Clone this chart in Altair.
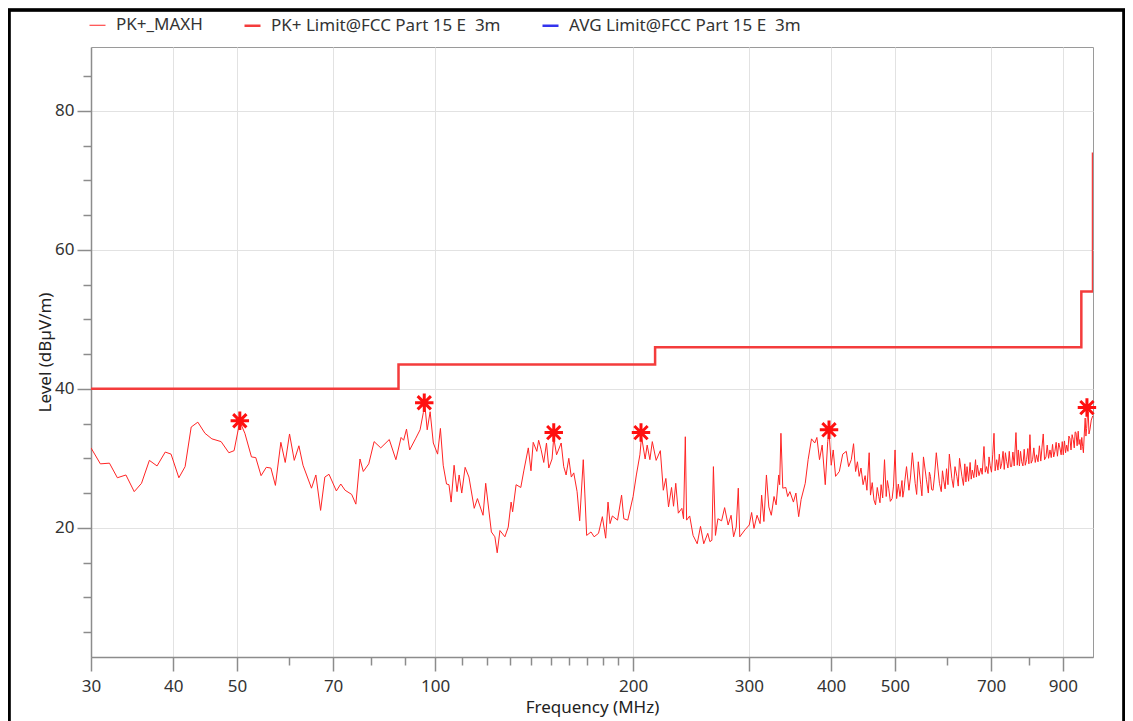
import altair as alt
import pandas as pd

# ---- data ----
trace_freq = [30.0, 31.0, 32.0, 32.9, 33.9, 34.9, 35.8, 36.8, 37.8, 38.9, 39.7, 40.8, 41.7, 42.6, 43.6, 44.7,
              45.8, 47.3, 48.6, 49.5, 50.5, 51.4, 52.6, 53.4, 54.4, 55.4, 56.3, 57.2, 58.3, 59.2, 60.1, 61.1,
              62.1, 63.0, 64.9, 65.9, 67.0, 68.0, 69.0, 70.8, 71.9, 73.0, 74.7, 75.8, 76.9, 77.8, 79.3, 80.8,
              82.7, 85.2, 87.2, 88.8, 89.6, 90.5, 91.5, 93.5, 94.9, 96.0, 96.5, 97.3, 98.3, 99.4, 100.9, 101.9,
              102.9, 104.1, 105.0, 105.8, 106.9, 108.0, 108.8, 109.8, 111.1, 112.6, 114.7, 116.0, 118.3, 119.4,
              121.8, 123.3, 124.3, 125.5, 127.7, 129.2, 130.5, 131.2, 132.8, 135.0, 136.5, 138.6, 139.9, 141.0,
              142.8, 143.7, 144.9, 146.3, 147.7, 148.9, 150.6, 151.5, 153.0, 155.5, 156.9, 158.2, 159.7, 161.1,
              162.5, 164.4, 165.9, 168.0, 168.9, 170.0, 172.6, 174.5, 177.2, 179.6, 181.7, 183.2, 184.5, 186.0,
              189.4, 192.1, 193.6, 196.3, 200.0, 202.3, 204.8, 206.0, 208.6, 210.1, 212.1, 213.9, 216.8, 220.0,
              222.3, 224.3, 226.4, 228.8, 230.4, 232.2, 234.3, 237.2, 238.6, 240.1, 241.2, 243.8, 246.7, 250.3,
              253.2, 256.1, 259.7, 261.7, 263.5, 264.9, 266.8, 269.1, 272.6, 275.5, 278.9, 281.8, 284.3, 286.9,
              289.0, 290.5, 295.8, 300.3, 302.8, 305.3, 308.6, 311.9, 313.6, 316.1, 318.9, 321.6, 324.4, 327.5,
              329.9, 332.9, 334.0, 335.5, 337.7, 341.3, 343.5, 346.2, 350.5, 353.6, 357.0, 360.1, 365.3, 369.0,
              373.4, 377.7, 380.5, 384.0, 387.6, 391.8, 395.2, 397.0, 400.1, 402.9, 406.2, 411.6, 416.5, 421.7,
              425.2, 429.2, 432.6, 435.7, 441.2, 447.3, 453.3, 456.9, 459.0, 464.6, 467.2, 472.5, 476.4, 482.1,
              485.0, 489.2, 495.1, 500.2, 503.0, 508.9, 516.0, 520.7, 525.1, 531.4, 536.7, 542.6, 547.2, 552.5,
              558.3, 566.2, 571.3, 577.9, 584.3, 592.9, 604.9, 610.2, 621.0, 626.8, 632.1, 643.5, 655.5, 667.2,
              675.6, 682.8, 689.0, 697.6, 707.2, 713.8, 726.6, 739.3, 752.1, 763.7, 767.2, 779.1, 792.6, 801.9,
              809.4, 820.8, 840.2, 848.3, 860.2, 875.2, 890.6, 901.2, 912.0, 922.3, 933.2, 942.2, 955.3, 964.4,
              973.0, 978.0, 983.4, 989.2, 999.0]
trace_level = [31.5, 29.2, 29.3, 27.2, 27.6, 25.2, 26.4, 29.7, 28.9, 30.9, 30.6, 27.2, 28.8, 34.5, 35.2, 33.6,
               32.8, 32.4, 30.8, 31.1, 35.3, 33.6, 30.2, 30.1, 27.5, 28.7, 28.6, 26.1, 32.3, 29.4, 33.5, 29.7,
               31.8, 29.0, 25.7, 27.6, 22.5, 27.3, 27.7, 25.3, 26.3, 25.4, 24.8, 23.4, 29.9, 28.1, 29.2, 32.4,
               31.5, 32.7, 29.8, 33.0, 32.6, 34.2, 31.2, 32.9, 34.1, 36.6, 37.7, 34.1, 36.7, 32.2, 30.6, 34.3,
               29.0, 26.3, 26.2, 23.7, 29.0, 25.2, 27.6, 25.0, 28.7, 27.3, 22.8, 24.2, 21.8, 26.4,
               19.4, 18.7, 16.4, 19.6, 18.7, 20.1, 23.7, 22.3, 26.2, 25.8, 28.3, 31.5, 28.2, 32.3,
               31.0, 32.6, 31.3, 29.4, 32.2, 28.6, 29.9, 33.0, 30.5, 32.2, 28.8, 27.6, 30.0, 27.3,
               27.9, 25.2, 21.0, 29.8, 25.0, 18.9, 19.4, 18.7, 19.2, 21.6, 18.5, 23.7, 20.6, 21.7,
               21.1, 24.7, 21.3, 21.1, 24.5, 27.6, 30.5, 33.1, 29.9, 31.9, 29.8, 32.4, 29.7, 31.1,
               25.4, 27.1, 23.0, 25.8, 23.1, 26.4, 22.1, 22.8, 21.3, 33.1, 21.1, 21.7, 18.9, 17.7,
               20.2, 17.7, 19.2, 18.0, 18.2, 28.8, 18.9, 21.3, 21.0, 22.9, 20.4, 21.8, 18.7, 20.1,
               25.7, 18.7, 19.7, 20.4, 22.2, 19.9, 21.8, 20.6, 24.7, 20.9, 27.6, 23.0, 21.8, 24.5,
               23.3, 27.6, 26.2, 33.6, 25.7, 25.8, 24.5, 25.2, 23.7, 25.0, 21.6, 24.1, 26.4, 29.8,
               32.8, 32.2, 33.0, 29.8, 31.9, 26.2, 32.4, 33.9, 29.0, 31.2, 27.4, 28.1, 30.6, 31.0,
               28.8, 29.8, 32.1, 28.1, 27.4, 26.2, 25.4, 30.8, 24.7, 24.0, 23.3, 24.5, 26.2, 29.8,
               24.5, 25.7, 24.2, 31.2, 24.2, 24.5, 25.4, 28.8, 25.4, 30.8, 26.4, 29.5, 26.2, 30.2,
               26.9, 27.4, 25.4, 30.8, 26.4, 26.9, 30.6, 27.1, 27.4, 30.0, 27.4, 28.8, 28.3, 29.0,
               28.6, 31.7, 28.8, 29.0, 33.6, 29.8, 29.3, 29.5, 28.8, 33.7, 29.0, 29.5, 29.8, 33.4,
               29.8, 30.5, 33.5, 30.2, 31.2, 31.0, 31.5, 30.5, 31.9, 32.9, 32.7, 33.7, 32.7, 31.7,
               35.8, 34.3, 36.7, 34.1, 36.1]

trace_freq_fine = [438.5, 444.0, 450.5, 461.8, 470.0, 474.5, 479.0, 487.0, 492.0, 497.5, 506.0, 512.5, 514.0,
                   518.0, 528.0, 539.5, 549.5, 562.0, 564.0, 568.5, 574.5, 588.0, 590.5, 596.0, 599.0, 602.0,
                   613.5, 617.0, 624.0, 635.5, 638.5, 641.0, 647.0, 650.5, 653.0, 659.0, 663.0, 665.0, 671.0,
                   678.5, 686.0, 692.5, 695.0, 701.0, 704.0, 710.0, 717.0, 720.5, 723.5, 730.0, 733.0, 736.0,
                   742.5, 746.0, 749.0, 755.5, 759.0, 770.0, 773.0, 776.0, 782.5, 786.0, 789.0, 796.0, 799.0,
                   805.5, 813.0, 817.0, 825.0, 829.0, 833.0, 836.5, 844.0, 852.0, 856.0, 864.0, 868.0, 871.5,
                   879.0, 883.0, 887.0, 894.5, 898.0, 905.0, 908.5, 916.0, 919.0, 926.0, 929.5, 936.5, 939.5,
                   946.0, 949.5, 952.5, 958.5, 961.5, 967.0, 970.0, 975.5, 980.5, 986.0, 994.0]
trace_level_fine = [29.5, 28.6, 27.5, 26.5, 25.8, 23.6, 24.3, 26.8, 23.8, 26.0, 26.3, 26.8, 24.4,
                    27.0, 27.3, 24.8, 24.6, 25.0, 28.0, 25.5, 27.6, 25.2, 28.2, 25.6, 28.5, 26.2,
                    25.8, 28.8, 26.0, 26.1, 29.2, 26.6, 26.7, 29.4, 27.0, 27.2, 29.8, 27.3, 27.5,
                    27.7, 28.0, 27.8, 30.2, 28.0, 30.5, 28.2, 28.3, 30.6, 28.5, 31.0, 28.4, 30.8,
                    28.6, 31.0, 28.8, 30.9, 28.9, 31.2, 28.9, 31.0, 28.9, 31.3, 29.0, 31.4, 29.2,
                    29.3, 31.5, 29.4, 29.5, 31.8, 29.6, 31.6, 29.8, 31.9, 30.0, 30.1, 32.0, 30.2,
                    32.3, 30.3, 32.2, 30.5, 32.4, 32.5, 30.8, 31.0, 33.2, 31.2, 33.4, 31.5, 33.8,
                    31.8, 33.9, 32.0, 31.2, 33.0, 30.8, 33.5, 33.2, 36.0, 33.5, 35.5]

limit_freq = [30, 88, 88, 216, 216, 960, 960, 1000, 1000]
limit_level = [40, 40, 43.5, 43.5, 46, 46, 54, 54, 74]

peak_freq = [50.5, 96.3, 151.5, 205.6, 397, 979]
peak_level = [35.4, 38.0, 33.7, 33.7, 34.1, 37.3]

series_names = ["PK+_MAXH", "PK+ Limit@FCC Part 15 E \u00a03m", "AVG Limit@FCC Part 15 E \u00a03m"]
series_colors = ["#FF2424", "#F43C3C", "#3333EE"]
series_widths = [1.0, 2.5, 2.5]

x_major = [30, 40, 50, 70, 100, 200, 300, 400, 500, 700, 900]
x_minor = [60, 80, 90, 110, 120, 130, 140, 150, 160, 170, 180, 190, 600, 800]
y_major = [20, 40, 60, 80]
y_minor = [5, 10, 15, 25, 30, 35, 45, 50, 55, 65, 70, 75, 85]

FONT = "Noto Sans"
FS = 17
W, H = 1002, 610
X_DOMAIN = [30, 1000]
Y_DOMAIN = [1.4, 89.2]

trace_pts = sorted(zip(trace_freq + trace_freq_fine, trace_level + trace_level_fine), key=lambda p: p[0])
rows = []
for i, (f, l) in enumerate(trace_pts):
    rows.append({"freq": f, "level": l, "series": series_names[0], "ord": i})
for i, (f, l) in enumerate(zip(limit_freq, limit_level)):
    rows.append({"freq": f, "level": l, "series": series_names[1], "ord": i})
lines_df = pd.DataFrame(rows)
peaks_df = pd.DataFrame({"freq": peak_freq, "level": peak_level})

xscale = alt.Scale(type="log", domain=X_DOMAIN, nice=False, zero=False)
yscale = alt.Scale(domain=Y_DOMAIN, nice=False, zero=False)

axis_common = dict(labelFont=FONT, labelFontSize=FS, labelColor="#333333",
                   titleFont=FONT, titleFontSize=FS, titleColor="#222222", titleFontWeight="normal",
                   domainColor="#8c8c8c", domainWidth=1.5, tickColor="#8c8c8c", tickWidth=1.5,
                   gridColor="#e2e2e2", gridWidth=1)

x_axis = alt.Axis(values=x_major, format="d", tickSize=14, labelPadding=7, grid=True,
                  title="Frequency (MHz)", titleX=501, titleY=50, titleBaseline="middle",
                  labelFlush=False, labelOverlap=False, **axis_common)
y_axis = alt.Axis(values=y_major, format="d", tickSize=14, labelPadding=3, grid=True,
                  title="Level (dBµV/m)", titleX=-46, titleY=305, titleAngle=-90,
                  titleAlign="center", titleBaseline="middle", **axis_common)

lines = alt.Chart(lines_df).mark_line(interpolate="linear", clip=True).encode(
    x=alt.X("freq:Q", scale=xscale, axis=x_axis),
    y=alt.Y("level:Q", scale=yscale, axis=y_axis),
    color=alt.Color("series:N", scale=alt.Scale(domain=series_names, range=series_colors),
                    legend=alt.Legend(title=None)),
    strokeWidth=alt.StrokeWidth("series:N",
                                scale=alt.Scale(type="ordinal", domain=series_names, range=series_widths),
                                legend=alt.Legend(title=None)),
    order="ord:Q",
    detail="series:N",
)

star_path = "M-1,0L1,0M0,-1L0,1M-0.72,-0.72L0.72,0.72M-0.72,0.72L0.72,-0.72"
peaks = alt.Chart(peaks_df).mark_point(shape=star_path, filled=False, size=340, strokeWidth=3,
                                        color="#FF1010", opacity=1).encode(
    x=alt.X("freq:Q", scale=xscale, axis=None),
    y=alt.Y("level:Q", scale=yscale, axis=None),
)

minor_common = dict(labels=False, grid=False, domain=False, title=None, tickColor="#8c8c8c", tickWidth=1.5)
minor = alt.Chart(peaks_df).mark_point(opacity=0).encode(
    x=alt.X("freq:Q", scale=xscale, axis=alt.Axis(values=x_minor, tickSize=8, orient="bottom", **minor_common)),
    y=alt.Y("level:Q", scale=yscale, axis=alt.Axis(values=y_minor, tickSize=8, orient="left", **minor_common)),
)

frame = alt.Chart(peaks_df).mark_rect(filled=False, stroke="#000000", strokeWidth=2.5, fillOpacity=0).encode(
    x=alt.value(-82), x2=alt.value(W + 31), y=alt.value(-37), y2=alt.value(H + 200)
)

chart = alt.layer(lines, peaks, minor, frame).resolve_axis(x="independent", y="independent").properties(
    width=W, height=H,
    autosize=alt.AutoSizeParams(type="none"),
    padding={"left": 83, "top": 39, "right": 32, "bottom": 64},
).configure_view(stroke="#9a9a9a", strokeWidth=1).configure_legend(
    orient="none", legendX=-3, legendY=-31, direction="horizontal", columns=3,
    symbolType="stroke", symbolSize=256, symbolStrokeWidth=2.5,
    labelFont=FONT, labelFontSize=FS, labelColor="#333333", labelLimit=400,
    columnPadding=36, labelOffset=9,
)

chart.save("out.html", embed_options={"renderer": "svg", "actions": False})
